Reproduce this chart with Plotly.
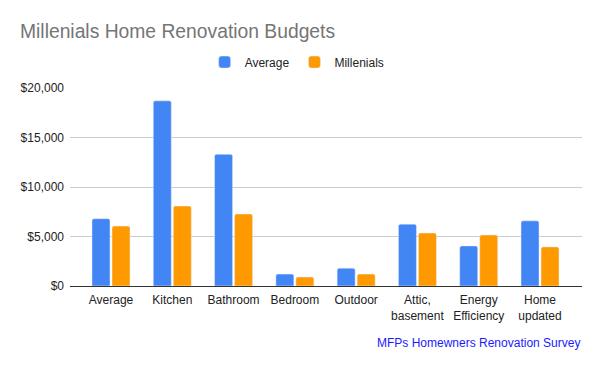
import plotly.graph_objects as go

categories = ["Average", "Kitchen", "Bathroom", "Bedroom", "Outdoor",
              "Attic,<br>basement", "Energy<br>Efficiency", "Home<br>updated"]
average = [6800, 18700, 13300, 1200, 1800, 6250, 4050, 6580]
millenials = [6050, 8080, 7270, 900, 1200, 5350, 5150, 3950]
y_ticks = [0, 5000, 10000, 15000, 20000]

fig = go.Figure()
fig.add_trace(go.Bar(x=categories, y=average, name="Average", marker_color="#4285F4"))
fig.add_trace(go.Bar(x=categories, y=millenials, name="Millenials", marker_color="#FF9900"))

# page body has an 8px margin; figure sized/positioned to compensate
fig.update_layout(
    width=592, height=363,
    margin=dict(l=62, r=18, t=80, b=85),
    paper_bgcolor="white", plot_bgcolor="white",
    barmode="group", bargap=0.347, bargroupgap=0.1, barcornerradius=2,
    title=dict(text="Millenials Home Renovation Budgets", x=12/592, xanchor="left",
               y=1 - 23/363, yanchor="middle",
               font=dict(family="Liberation Sans", size=19.3, color="#757575")),
    legend=dict(orientation="h", x=0.263, xanchor="left", y=1.131, yanchor="middle",
                font=dict(family="Liberation Sans", size=12, color="#222222"),
                itemwidth=30, traceorder="normal"),
    font=dict(family="Liberation Sans", size=12, color="#222222"),
    xaxis=dict(range=[-0.669, 7.685], showgrid=False, showline=True,
               linecolor="#333333", linewidth=1,
               tickfont=dict(size=12, color="#222222"), ticks="", ticklabelstandoff=3),
    yaxis=dict(range=[0, 20000], tickvals=y_ticks, tickformat="$,.0f",
               gridcolor="#cccccc", gridwidth=1, zeroline=False, showline=False,
               tickfont=dict(size=12, color="#222222"), ticks="", ticklabelstandoff=5),
    showlegend=True,
)
fig.add_annotation(text="MFPs Homewners Renovation Survey", xref="paper", yref="paper",
                   x=1, xanchor="right", y=-57/198, yanchor="middle", showarrow=False,
                   font=dict(family="Liberation Sans", size=12, color="#1a1aff"))

fig.write_html("out.html")
